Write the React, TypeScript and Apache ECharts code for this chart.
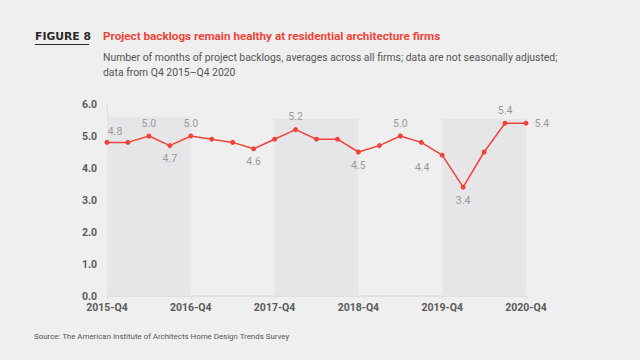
import React, { useEffect, useRef } from "react";
import * as echarts from "echarts";

const categories = [
  "2015-Q4", "2016-Q1", "2016-Q2", "2016-Q3",
  "2016-Q4", "2017-Q1", "2017-Q2", "2017-Q3",
  "2017-Q4", "2018-Q1", "2018-Q2", "2018-Q3",
  "2018-Q4", "2019-Q1", "2019-Q2", "2019-Q3",
  "2019-Q4", "2020-Q1", "2020-Q2", "2020-Q3",
  "2020-Q4",
];
const backlogMonths = [
  4.8, 4.8, 5.0, 4.7, 5.0, 4.9, 4.8, 4.6, 4.9, 5.2, 4.9, 4.9, 4.5, 4.7, 5.0, 4.8,
  4.4, 3.4, 4.5, 5.4, 5.4,
];
// label placement per point: "" = none
const labelPlacement = [
  "topright", "", "top", "bottom", "top", "", "", "bottom", "", "top", "", "",
  "bottom", "", "top", "", "bottomleft", "bottom", "", "top", "right",
];
const shadedBands: [string, string, number][] = [
  ["2015-Q4", "2016-Q4", 5.6],
  ["2017-Q4", "2018-Q4", 5.53],
  ["2019-Q4", "2020-Q4", 5.53],
];
const yTicks = [0, 1, 2, 3, 4, 5, 6];

const RED = "#f0443a";
const FONT = "Roboto, 'Noto Sans', sans-serif";

export default function App() {
  const ref = useRef<HTMLDivElement>(null);
  useEffect(() => {
    if (!ref.current) return;
    const chart = echarts.init(ref.current, undefined, { renderer: "svg" });
    const labelStyle = (p: string) => {
      if (!p) return { show: false };
      const base: any = {
        show: true,
        color: "#9a9a9a",
        fontSize: 10.5,
        fontFamily: FONT,
        formatter: (d: any) => d.value.toFixed(1),
      };
      if (p === "top") return { ...base, position: "top", distance: 5 };
      if (p === "bottom") return { ...base, position: "bottom", distance: 5 };
      if (p === "right") return { ...base, position: "right", distance: 6 };
      if (p === "topright") return { ...base, position: "top", distance: 3, offset: [8, 0] };
      if (p === "bottomleft") return { ...base, position: "bottom", distance: 4, offset: [-20, 0] };
      return base;
    };
    chart.setOption({
      animation: false,
      backgroundColor: "#efefef",
      textStyle: { fontFamily: FONT },
      grid: { left: 107, right: 114, top: 104, bottom: 64 },
      graphic: [
        {
          type: "text",
          left: 35,
          top: 31,
          style: {
            text: "FIGURE 8",
            fontSize: 10.8,
            fontWeight: "bold",
            fill: "#2a2a2a",
            fontFamily: "'DejaVu Sans', sans-serif",
          },
        },
        {
          type: "line",
          shape: { x1: 35, y1: 44.5, x2: 89, y2: 44.5 },
          style: { stroke: "#2a2a2a", lineWidth: 1 },
        },
        {
          type: "text",
          left: 103,
          top: 30,
          style: {
            text: "Project backlogs remain healthy at residential architecture firms",
            fontSize: 11.7,
            fontWeight: "bold",
            fill: RED,
            fontFamily: FONT,
          },
        },
        {
          type: "text",
          left: 103,
          top: 50,
          style: {
            text:
              "Number of months of project backlogs, averages across all firms; data are not seasonally adjusted;\ndata from Q4 2015\u2013Q4 2020",
            fontSize: 10.4,
            lineHeight: 15,
            fill: "#555555",
            fontFamily: FONT,
          },
        },
        {
          type: "text",
          left: 34,
          top: 332,
          style: {
            text: "Source: The American Institute of Architects Home Design Trends Survey",
            fontSize: 7.9,
            fill: "#555555",
            fontFamily: FONT,
          },
        },
      ],
      xAxis: {
        type: "category",
        data: categories,
        boundaryGap: false,
        axisLine: { lineStyle: { color: "#dcdcdc", width: 1.5 } },
        axisTick: { show: true, length: 3, lineStyle: { color: "#dcdcdc" } },
        axisLabel: {
          interval: 3,
          color: "#5a5a5a",
          fontWeight: "bold",
          fontSize: 10.5,
          margin: 6,
          fontFamily: FONT,
        },
        splitLine: { show: false },
      },
      yAxis: {
        type: "value",
        min: 0,
        max: 6,
        interval: 1,
        axisLine: { show: true, lineStyle: { color: "#dedede" } },
        axisTick: { show: false },
        splitLine: { show: false },
        axisLabel: {
          color: "#5a5a5a",
          fontWeight: "bold",
          fontSize: 10.5,
          margin: 10,
          fontFamily: FONT,
          formatter: (v: number) => (yTicks.includes(v) ? v.toFixed(1) : ""),
        },
      },
      series: [
        {
          type: "line",
          data: backlogMonths.map((v, i) => ({ value: v, label: labelStyle(labelPlacement[i]) })),
          symbol: "circle",
          symbolSize: 5,
          lineStyle: { color: RED, width: 1.5 },
          itemStyle: { color: RED },
          z: 5,
          markArea: {
            silent: true,
            itemStyle: { color: "#e6e6e8" },
            data: shadedBands.map(([a, b, top]) => [
              { xAxis: a, yAxis: 0 },
              { xAxis: b, yAxis: top },
            ]),
          },
        },
      ],
    });
    return () => chart.dispose();
  }, []);
  return (
    <div
      ref={ref}
      style={{ width: 640, height: 360, position: "fixed", left: 0, top: 0 }}
    />
  );
}
